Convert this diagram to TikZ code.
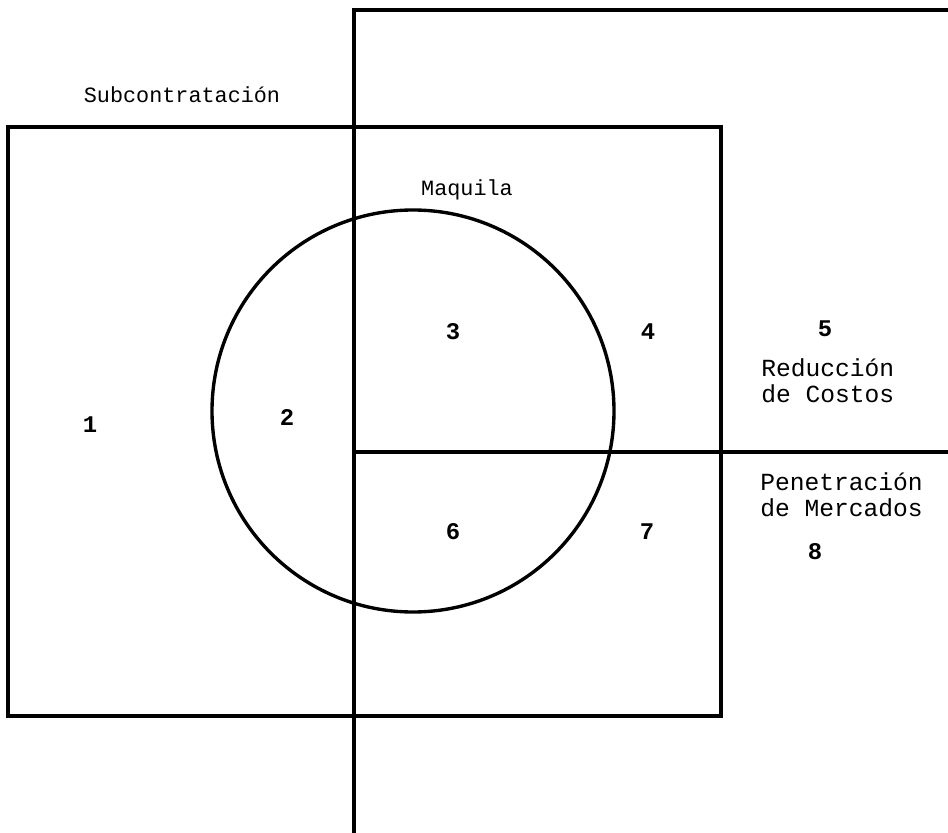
\documentclass[tikz,border=0pt]{standalone}
\usepackage{fontspec}
\setmainfont{Liberation Mono}
\begin{document}
\begin{tikzpicture}[x=0.025cm,y=-0.025cm,
  frame/.style={line width=2.4pt,line cap=rect},
  lbl/.style={font=\fontsize{17}{17}\selectfont\bfseries,inner sep=0pt},
  two/.style={lbl,align=left,font=\fontsize{17.5}{19}\selectfont}]
\useasboundingbox (0,0) rectangle (948,833);
% coordinates
\coordinate (vt) at (354,10);
\coordinate (vb) at (354,833);
\coordinate (tr) at (948,10);
\coordinate (hm) at (354,452);
\coordinate (hr) at (948,452);
% square
\draw[frame] (8,127) rectangle (721,716);
% vertical line and top edge
\draw[frame] (vb) -- (vt) -- (tr);
% middle horizontal
\draw[frame] (hm) -- (hr);
% circle
\draw[frame] (413,411) circle (201);
% labels
\node[lbl,font=\fontsize{15.5}{16}\selectfont] (sub) at (182,95) {Subcontrataci\'on};
\node[lbl,font=\fontsize{15.5}{16}\selectfont] (maq) at (467,190) {Maquila};
\node[lbl] (n1) at (90,425) {1};
\node[lbl] (n2) at (287,418) {2};
\node[lbl] (n3) at (453,332) {3};
\node[lbl] (n4) at (648,332) {4};
\node[lbl] (n5) at (825,329) {5};
\node[lbl] (n6) at (453,532) {6};
\node[lbl] (n7) at (647,532) {7};
\node[lbl] (n8) at (815,552) {8};
\node[two,anchor=north west] (rc) at (761,358) {Reducci\'on\\de Costos};
\node[two,anchor=north west] (pm) at (760,472) {Penetraci\'on\\de Mercados};
\end{tikzpicture}
\end{document}
